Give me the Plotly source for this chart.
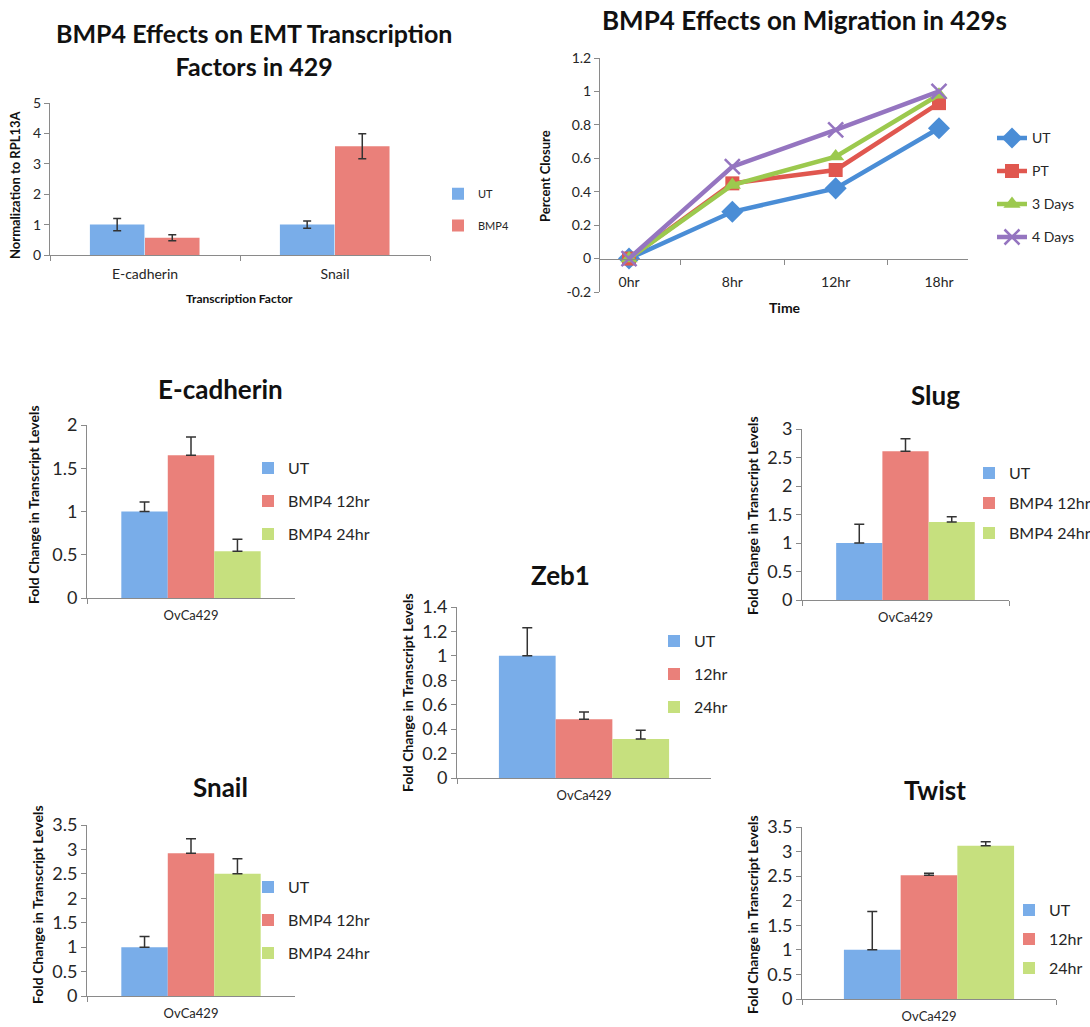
import plotly.graph_objects as go

W, H = 1090, 1027
FONT = "Lato"

# ---------------- data ----------------
# EMT transcription factors, normalised to RPL13A
emt_factors = ["E-cadherin", "Snail"]
emt_ut = [1.0, 1.0]
emt_ut_err = [0.2, 0.12]
emt_bmp4 = [0.57, 3.58]
emt_bmp4_err = [0.1, 0.41]

# wound-closure time course
mig_times = ["0hr", "8hr", "12hr", "18hr"]
mig_ut = [0.0, 0.28, 0.42, 0.78]
mig_pt = [0.0, 0.45, 0.53, 0.93]
mig_3days = [0.0, 0.44, 0.61, 0.98]
mig_4days = [0.0, 0.55, 0.77, 1.0]
mig_tickvals = [-0.2, 0, 0.2, 0.4, 0.6, 0.8, 1.0, 1.2]
mig_ticktext = ["-0.2", "0", "0.2", "0.4", "0.6", "0.8", "1", "1.2"]

# fold change in transcript levels, OvCa429
cell_line = ["OvCa429"]
bmp4_names = ["UT", "BMP4 12hr", "BMP4 24hr"]
time_names = ["UT", "12hr", "24hr"]

ecad_fold = [1.0, 1.65, 0.54]
ecad_fold_err = [0.11, 0.21, 0.14]
slug_fold = [1.0, 2.61, 1.37]
slug_fold_err = [0.33, 0.22, 0.09]
zeb1_fold = [1.0, 0.48, 0.32]
zeb1_fold_err = [0.23, 0.06, 0.07]
snail_fold = [1.0, 2.92, 2.5]
snail_fold_err = [0.22, 0.3, 0.31]
twist_fold = [1.0, 2.52, 3.12]
twist_fold_err = [0.78, 0.04, 0.08]

# ---------------- styling ----------------
BLUE, RED, GREEN = "#79ade9", "#ea807a", "#c6e07e"
BAR_COLORS = [BLUE, RED, GREEN]
LINE_COLORS = ["#4a8dd6", "#e0574f", "#9cc94e", "#9575c0"]
AXIS_GRAY = "#8a8a8a"
TEXT = "#262626"
ERR = "#333333"


def px_x(p):
    return p / W


def px_y(p):
    return 1 - p / H


fig = go.Figure()
layout_axes = {}
legends = {}
annotations = []


def label(text, x, y, size, bold=False, angle=0):
    annotations.append(dict(
        text=text, x=px_x(x), y=px_y(y), xref="paper", yref="paper",
        showarrow=False, xanchor="center", yanchor="middle", textangle=angle,
        font=dict(family=FONT, size=size, color="#111111" if bold else TEXT,
                  weight="bold" if bold else "normal")))


def legend_box(left, sy, size, spacing):
    item_h = size * 1.3 + 3
    return dict(
        x=px_x(left), y=px_y(sy - item_h / 2 - 2), xanchor="left", yanchor="top",
        bgcolor="rgba(0,0,0,0)", borderwidth=0,
        font=dict(family=FONT, size=size, color=TEXT),
        tracegroupgap=max(spacing - item_h, 0), itemclick=False, itemdoubleclick=False)


def x_axis(n, x0, x1, anchor, size, **kw):
    d = dict(domain=[px_x(x0), px_x(x1)], anchor=anchor, type="category",
             showline=True, linecolor=AXIS_GRAY, linewidth=1, ticks="outside",
             ticklen=5, tickcolor=AXIS_GRAY, tickson="boundaries", showgrid=False,
             zeroline=False, fixedrange=True,
             tickfont=dict(family=FONT, size=size, color=TEXT))
    d.update(kw)
    layout_axes["xaxis" if n == 1 else f"xaxis{n}"] = d


def y_axis(n, y0, y1, rng, size, **kw):
    d = dict(domain=[px_y(y1), px_y(y0)], anchor="x" if n == 1 else f"x{n}",
             range=rng, showline=True, linecolor=AXIS_GRAY, linewidth=1,
             ticks="outside", ticklen=5, tickcolor=AXIS_GRAY, showgrid=False,
             zeroline=False, fixedrange=True,
             tickfont=dict(family=FONT, size=size, color=TEXT))
    d.update(kw)
    layout_axes["yaxis" if n == 1 else f"yaxis{n}"] = d


# ---------- panel 1: EMT transcription factors ----------
x_axis(1, 50, 430, "y", 14, ticklabelstandoff=6)
y_axis(1, 103, 255, [0, 5], 14, dtick=1)
for name, vals, errs, color, off in [("UT", emt_ut, emt_ut_err, BLUE, -0.29),
                                     ("BMP4", emt_bmp4, emt_bmp4_err, RED, 0.0)]:
    fig.add_trace(go.Bar(
        x=emt_factors, y=vals, name=name, xaxis="x", yaxis="y",
        width=0.287, offset=off, marker=dict(color=color, line=dict(width=0)),
        error_y=dict(type="data", array=errs, color=ERR, thickness=1.5, width=4),
        legend="legend", legendgroup="emt_" + name))
legends["legend"] = legend_box(438, 190, 11, 30)
label("BMP4 Effects on EMT Transcription<br>Factors in 429", 254, 50, 25, bold=True)
label("Normalization to RPL13A", 15, 185, 13, bold=True, angle=-90)
label("Transcription Factor", 239, 298, 12, bold=True)

# ---------- panel 2: migration ----------
zero_px = 292 - (292 - 58) * 0.2 / 1.4
x_axis(2, 600, 968, "free", 14, position=px_y(zero_px), ticklabelstandoff=11)
y_axis(2, 58, 292, [-0.2, 1.2], 14, tickvals=mig_tickvals, ticktext=mig_ticktext)
mig_series = [("UT", mig_ut, "diamond", 17), ("PT", mig_pt, "square", 14),
              ("3 Days", mig_3days, "triangle-up", 15), ("4 Days", mig_4days, "x-thin", 15)]
for (name, vals, sym, sz), color in zip(mig_series, LINE_COLORS):
    mk = dict(symbol=sym, size=sz, color=color, line=dict(width=0))
    if sym == "x-thin":
        mk["line"] = dict(width=2.5, color=color)
    fig.add_trace(go.Scatter(
        x=mig_times, y=vals, name=name, mode="lines+markers", xaxis="x2", yaxis="y2",
        line=dict(color=color, width=4.5), marker=mk,
        legend="legend2", legendgroup="mig_" + name))
legends["legend2"] = legend_box(992, 135, 14, 33)
label("BMP4 Effects on Migration in 429s", 804, 20, 26, bold=True)
label("Percent Closure", 545, 176, 13, bold=True, angle=-90)
label("Time", 785, 307, 14, bold=True)

# ---------- fold-change panels ----------
fold_panels = [
    # n, title, values, errors, names, x px, y px, range, dtick, title xy, ytitle xy, legend xy, legend spacing
    (3, "E-cadherin", ecad_fold, ecad_fold_err, bmp4_names, (87, 295), (425, 598), [0, 2], 0.5,
     (220, 389), (33, 505), (272, 465), 33),
    (4, "Slug", slug_fold, slug_fold_err, bmp4_names, (802, 1009), (429, 600), [0, 3], 0.5,
     (935, 395), (752, 516), (993, 470), 30),
    (5, "Zeb1", zeb1_fold, zeb1_fold_err, time_names, (457, 711), (607, 778), [0, 1.40001], 0.2,
     (560, 575), (407, 693), (678, 638), 33),
    (6, "Snail", snail_fold, snail_fold_err, bmp4_names, (87, 295), (825, 996), [0, 3.5], 0.5,
     (220, 787), (37, 905), (272, 884), 33),
    (7, "Twist", twist_fold, twist_fold_err, time_names, (802, 1056), (827, 999), [0, 3.5], 0.5,
     (935, 790), (752, 915), (1033, 907), 29),
]

for (n, title, vals, errs, names, xr, yr, rng, dtick, tpos, ypos, lpos, lsp) in fold_panels:
    x_axis(n, xr[0], xr[1], f"y{n}", 13, ticklabelstandoff=5)
    y_axis(n, yr[0], yr[1], rng, 18, dtick=dtick)
    for name, v, e, color in zip(names, vals, errs, BAR_COLORS):
        fig.add_trace(go.Bar(
            x=cell_line, y=[v], name=name, xaxis=f"x{n}", yaxis=f"y{n}",
            marker=dict(color=color, line=dict(width=0)),
            error_y=dict(type="data", symmetric=False, array=[e], arrayminus=[0],
                         color=ERR, thickness=1.5, width=5),
            legend=f"legend{n}", legendgroup=f"{title}_{name}"))
    legends[f"legend{n}"] = legend_box(lpos[0] - 24, lpos[1], 16, lsp)
    label(title, tpos[0], tpos[1], 26, bold=True)
    label("Fold Change in Transcript Levels", ypos[0], ypos[1], 14, bold=True, angle=-90)

fig.update_layout(
    width=W, height=H, autosize=False,
    margin=dict(l=0, r=0, t=0, b=0, autoexpand=False),
    paper_bgcolor="white", plot_bgcolor="rgba(0,0,0,0)",
    barmode="group", bargap=0.33, bargroupgap=0,
    showlegend=True, annotations=annotations,
    **layout_axes, **legends)

fig.write_html("out.html")
